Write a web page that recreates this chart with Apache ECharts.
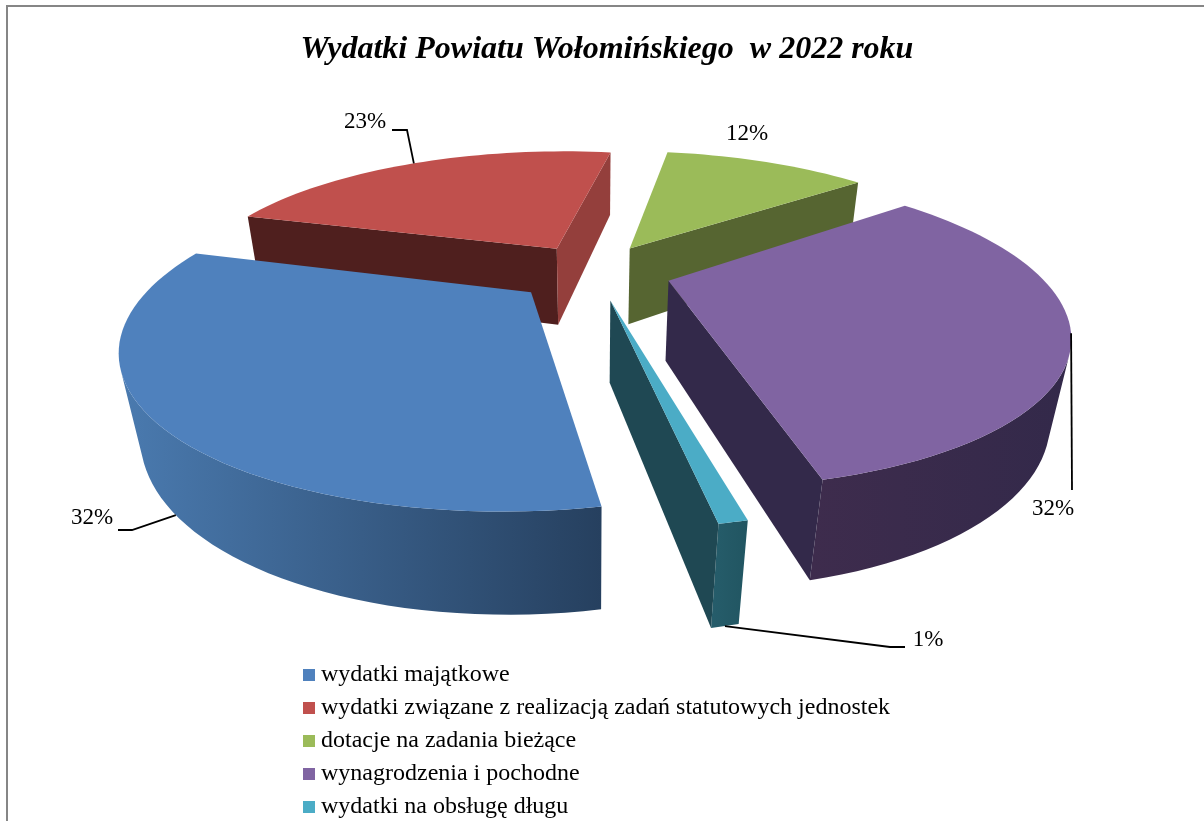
<!DOCTYPE html>
<html>
<head>
<meta charset="utf-8">
<title>Wydatki Powiatu Wołomińskiego</title>
<style>
html, body { margin: 0; padding: 0; background: #fff; }
#chart { width: 1204px; height: 821px; }
</style>
<script src="https://cdn.jsdelivr.net/npm/echarts@6/dist/echarts.min.js"></script>
</head>
<body>
<div id="chart"></div>
<script>
'use strict';

var titleText = 'Wydatki Powiatu Wołomińskiego  w 2022 roku';
var categories = [
	'wydatki majątkowe',
	'wydatki związane z realizacją zadań statutowych jednostek',
	'dotacje na zadania bieżące',
	'wynagrodzenia i pochodne',
	'wydatki na obsługę długu'
];
// na etykietach zaokraglone
var values = [32.33, 23.17, 11.7, 31.94, 0.86];

// kolory: wierzch, sciana boczna pierwsza/druga, zewnetrzna lewo/prawo
var topColors = ['#4f81bd', '#c0504d', '#9bbb59', '#8064a2', '#4bacc6'];
var sideColors = [
	['#26405f', '#26405f'],
	['#4f1f1e', '#943f3c'],
	['#566531', '#566531'],
	['#33294a', '#33294a'],
	['#1f4853', '#1f4853']
];
var wallColors = [
	['#4a7aaf', '#26405f'],
	['#943f3c', '#943f3c'],
	['#566531', '#566531'],
	['#3e2c4d', '#33294a'],
	['#265d6b', '#215561']
];

// kolejnosc rysowania: najpierw tyl
var drawOrder = [1, 2, 3, 4, 0];

// rzut perspektywiczny
var pie = {
	cx: 594, cy: 271,
	bx: 368, ay: 138,
	persp: 0.298, depth: 82, depthPersp: 0.041,
	startAngle: 169.8
};
var explode = [0.22, 0.2, 0.2, 0.21, 0.205];

// etykiety: pozycja tekstu, kolanko linii, punkt linii na obrzezu (h: 0 wierzch, 1 spod)
var labelLayout = [
	{ x: 92, y: 518, elbow: [[118, 530], [132, 530]], h: 1 },
	{ x: 365, y: 122, elbow: [[392, 130], [407, 130]], h: 0 },
	{ x: 747, y: 134 },
	{ x: 1053, y: 509, elbow: [[1072, 490]], h: 0 },
	{ x: 928, y: 640, elbow: [[905, 647], [890, 647]], h: 1 }
];

function project(x, y, h) {
	var w = 1 + pie.persp * y + pie.depthPersp * h;
	return [
		pie.cx + pie.bx * x / w,
		pie.cy - (pie.ay * y - pie.depth * h) / w
	];
}

function sliceAngles(index) {
	var total = 0;
	var before = 0;
	for (var i = 0; i < values.length; i++) {
		if (i < index) {
			before += values[i];
		}
		total += values[i];
	}
	var a0 = pie.startAngle + before / total * 360;
	return [a0, a0 + values[index] / total * 360];
}

function rad(deg) {
	return deg * Math.PI / 180;
}

function area(p) {
	var s = 0;
	for (var i = 0; i < p.length; i++) {
		var n = p[(i + 1) % p.length];
		s += p[i][0] * n[1] - n[0] * p[i][1];
	}
	return s;
}

function polygon(points, fill) {
	return {
		type: 'polygon',
		shape: { points: points },
		style: { fill: fill, stroke: null }
	};
}

function renderSlice(index, api) {
	var angles = sliceAngles(index);
	var midDeg = (angles[0] + angles[1]) / 2;
	var ex = Math.sin(rad(midDeg)) * explode[index];
	var ey = Math.cos(rad(midDeg)) * explode[index];
	var steps = Math.max(4, Math.ceil((angles[1] - angles[0]) / 2));
	var children = [];

	function rim(deg, h) {
		return project(ex + Math.sin(rad(deg)), ey + Math.cos(rad(deg)), h);
	}
	var tipTop = project(ex, ey, 0);
	var tipBottom = project(ex, ey, 1);

	var topFace = [tipTop];
	var wallTop = [];
	var wallBottom = [];
	for (var s = 0; s <= steps; s++) {
		var a = angles[0] + (angles[1] - angles[0]) * s / steps;
		topFace.push(rim(a, 0));
		var visible = false;
		if (s < steps) {
			var a2 = angles[0] + (angles[1] - angles[0]) * (s + 1) / steps;
			visible = area([rim(a, 0), rim(a2, 0), rim(a2, 1), rim(a, 1)]) < 0;
		}
		if (visible || wallTop.length) {
			wallTop.push(rim(a, 0));
			wallBottom.unshift(rim(a, 1));
		}
		if (!visible && wallTop.length) {
			children.push(polygon(wallTop.concat(wallBottom), new echarts.graphic.LinearGradient(0, 0, 1, 0, [
				{ offset: 0, color: wallColors[index][0] },
				{ offset: 1, color: wallColors[index][1] }
			])));
			wallTop = [];
			wallBottom = [];
		}
	}

	// sciany promieniowe, tylko te zwrocone do widza
	var first = [tipTop, rim(angles[0], 0), rim(angles[0], 1), tipBottom];
	if (area(first) < 0) {
		children.push(polygon(first, sideColors[index][0]));
	}
	var second = [tipTop, rim(angles[1], 0), rim(angles[1], 1), tipBottom];
	if (area(second) > 0) {
		children.push(polygon(second, sideColors[index][1]));
	}
	children.push(polygon(topFace, topColors[index]));

	var layout = labelLayout[index];
	if (layout.elbow) {
		children.push({
			type: 'polyline',
			shape: { points: layout.elbow.concat([rim(midDeg, layout.h)]) },
			style: { fill: null, stroke: '#000', lineWidth: 1.8 }
		});
	}
	children.push({
		type: 'text',
		x: layout.x,
		y: layout.y,
		style: {
			text: Math.round(api.value(0)) + '%',
			fill: '#000',
			font: '23px "Liberation Serif"',
			align: 'center',
			verticalAlign: 'middle'
		}
	});
	return { type: 'group', children: children };
}

var series = drawOrder.map(function (index, order) {
	return {
		type: 'custom',
		name: categories[index],
		coordinateSystem: 'none',
		z: 2 + order,
		silent: true,
		itemStyle: { color: topColors[index] },
		data: [[values[index]]],
		renderItem: function (params, api) {
			return renderSlice(index, api);
		}
	};
});

var chart = echarts.init(document.getElementById('chart'), null, { renderer: 'canvas' });
chart.setOption({
	animation: false,
	backgroundColor: '#fff',
	title: {
		text: titleText,
		left: 602,
		top: 29,
		textAlign: 'center',
		textStyle: {
			fontFamily: 'Liberation Serif',
			fontStyle: 'italic',
			fontWeight: 'bold',
			fontSize: 32,
			color: '#000'
		}
	},
	legend: {
		orient: 'vertical',
		left: 303,
		top: 663,
		padding: 0,
		itemWidth: 12,
		itemHeight: 12,
		itemGap: 9,
		icon: 'rect',
		data: categories,
		textStyle: {
			fontFamily: 'Liberation Serif',
			fontSize: 24,
			color: '#000',
			padding: [0, 0, 0, 1]
		}
	},
	graphic: [{
		type: 'polyline',
		silent: true,
		shape: { points: [[7, 821], [7, 6], [1204, 6]] },
		style: { fill: null, stroke: '#868686', lineWidth: 2 }
	}],
	series: series
});
</script>
</body>
</html>
